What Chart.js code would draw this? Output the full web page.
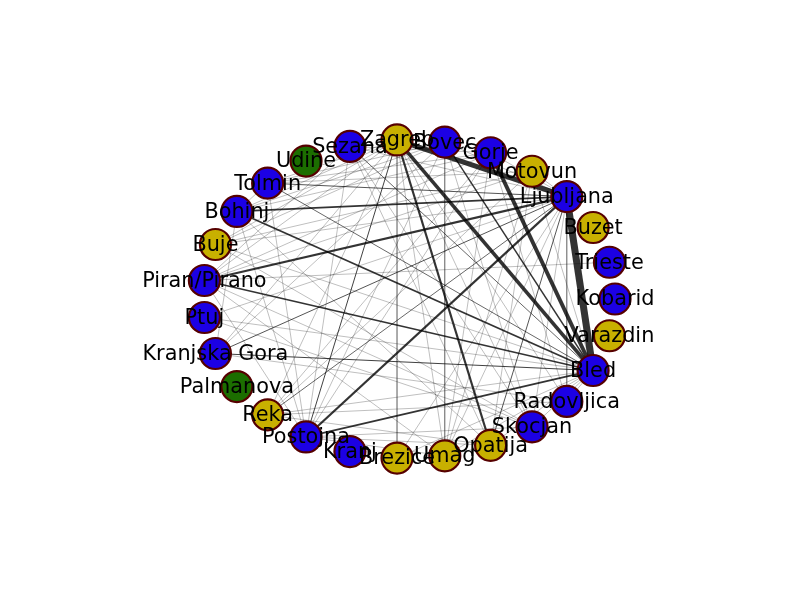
<!DOCTYPE html>
<html>
<head>
<meta charset="utf-8">
<script src="https://cdn.jsdelivr.net/npm/chart.js@4.4.1/dist/chart.umd.min.js"></script>
<style>
  html, body { margin: 0; padding: 0; background: #fff; }
  #wrap { width: 800px; height: 600px; }
</style>
</head>
<body>
<div id="wrap"><canvas id="netChart" width="800" height="600"></canvas></div>
<script>
// Nodes in circular layout order (angle 0 first, counter-clockwise)
var nodeNames = ['Kobarid', 'Trieste', 'Buzet', 'Ljubljana', 'Motovun', 'Gorje', 'Bovec', 'Zagreb',
  'Sezana', 'Udine', 'Tolmin', 'Bohinj', 'Buje', 'Piran/Pirano', 'Ptuj', 'Kranjska Gora',
  'Palmanova', 'Reka', 'Postojna', 'Kranj', 'Brezice', 'Umag', 'Opatija', 'Skocjan',
  'Radovljica', 'Bled', 'Varazdin'];
// 0 = blue, 1 = yellow, 2 = green
var nodeGroups = [0, 0, 1, 0, 1, 0, 0, 1, 0, 2, 0, 0, 1, 0, 0, 0, 2, 1, 0, 0, 1, 1, 1, 0, 0, 0, 1];
var groupColors = ['#1c00e4', '#c8b000', '#1c6e00'];

// Edges: [from, to, weight]
var heavyEdges = [
  ['Ljubljana', 'Bled', 7],
  ['Zagreb', 'Ljubljana', 5],
  ['Gorje', 'Bled', 4],
  ['Zagreb', 'Bled', 3.5],
  ['Zagreb', 'Opatija', 2.2],
  ['Piran/Pirano', 'Ljubljana', 2.2],
  ['Postojna', 'Ljubljana', 2.2],
  ['Bohinj', 'Ljubljana', 1.8],
  ['Bohinj', 'Bled', 1.8],
  ['Piran/Pirano', 'Bled', 1.6],
  ['Postojna', 'Bled', 1.8],
  ['Bovec', 'Bled', 1.4]
];
var mediumEdges = [
  ['Kranjska Gora', 'Bled', 1],
  ['Kranjska Gora', 'Ljubljana', 0.9],
  ['Zagreb', 'Postojna', 1],
  ['Tolmin', 'Ljubljana', 0.9],
  ['Opatija', 'Ljubljana', 0.9],
  ['Sezana', 'Bled', 0.8],
  ['Reka', 'Ljubljana', 0.8],
  ['Tolmin', 'Bled', 0.8]
];
var lightEdges = [
  ['Zagreb', 'Brezice'], ['Zagreb', 'Kranjska Gora'], ['Zagreb', 'Piran/Pirano'], ['Zagreb', 'Buje'],
  ['Zagreb', 'Reka'], ['Zagreb', 'Umag'], ['Zagreb', 'Skocjan'],
  ['Zagreb', 'Radovljica'], ['Zagreb', 'Bohinj'], ['Zagreb', 'Tolmin'],
  ['Ljubljana', 'Sezana'], ['Ljubljana', 'Buje'], ['Ljubljana', 'Ptuj'], ['Ljubljana', 'Brezice'],
  ['Ljubljana', 'Umag'], ['Ljubljana', 'Skocjan'], ['Ljubljana', 'Radovljica'], ['Ljubljana', 'Bovec'],
  ['Ljubljana', 'Gorje'], ['Ljubljana', 'Motovun'],
  ['Bled', 'Buje'], ['Bled', 'Ptuj'], ['Bled', 'Reka'], ['Bled', 'Brezice'],
  ['Bled', 'Umag'], ['Bled', 'Opatija'], ['Bled', 'Skocjan'], ['Bled', 'Radovljica'], ['Bled', 'Motovun'],
  ['Bohinj', 'Tolmin'], ['Bohinj', 'Bovec'], ['Bohinj', 'Gorje'],
  ['Bohinj', 'Kranjska Gora'], ['Bohinj', 'Postojna'], ['Bohinj', 'Opatija'],
  ['Tolmin', 'Bovec'], ['Tolmin', 'Gorje'], ['Tolmin', 'Motovun'], ['Tolmin', 'Postojna'],
  ['Piran/Pirano', 'Sezana'], ['Piran/Pirano', 'Motovun'], ['Piran/Pirano', 'Postojna'],
  ['Piran/Pirano', 'Umag'], ['Piran/Pirano', 'Skocjan'], ['Piran/Pirano', 'Gorje'],
  ['Piran/Pirano', 'Trieste'],
  ['Postojna', 'Sezana'], ['Postojna', 'Bovec'], ['Postojna', 'Gorje'], ['Postojna', 'Skocjan'],
  ['Postojna', 'Opatija'], ['Postojna', 'Umag'],
  ['Sezana', 'Skocjan'], ['Sezana', 'Opatija'], ['Sezana', 'Gorje'],
  ['Bovec', 'Kranjska Gora'], ['Bovec', 'Skocjan'], ['Bovec', 'Umag'], ['Bovec', 'Buje'],
  ['Gorje', 'Reka'], ['Gorje', 'Umag'], ['Gorje', 'Radovljica'],
  ['Motovun', 'Buje'], ['Motovun', 'Reka'], ['Motovun', 'Opatija'], ['Motovun', 'Umag'],
  ['Buje', 'Skocjan'],
  ['Reka', 'Opatija'], ['Reka', 'Radovljica'],
  ['Kranjska Gora', 'Radovljica'],
  ['Ptuj', 'Skocjan'], ['Umag', 'Opatija']
];

// circular layout like networkx
function nodePos(i) {
  var t = 2 * Math.PI * i / nodeNames.length;
  return { x: Math.cos(t), y: Math.sin(t) };
}

var datasets = [];

// nodes on top
datasets.push({
  label: 'nodes',
  data: nodeNames.map(function (n, i) { return nodePos(i); }),
  pointRadius: 15.5,
  pointHoverRadius: 15.5,
  pointBackgroundColor: nodeGroups.map(function (g) { return groupColors[g]; }),
  pointBorderColor: '#560000',
  pointBorderWidth: 2.2,
  showLine: false,
  order: 0
});

function addEdge(e, w, col) {
  var a = nodePos(nodeNames.indexOf(e[0]));
  var b = nodePos(nodeNames.indexOf(e[1]));
  datasets.push({
    label: e[0] + '-' + e[1],
    data: [a, b],
    showLine: true,
    pointRadius: 0,
    borderColor: col,
    borderWidth: w,
    order: 2
  });
}
lightEdges.forEach(function (e) { addEdge(e, 0.5, 'rgba(0,0,0,0.5)'); });
mediumEdges.forEach(function (e) { addEdge(e, e[2], 'rgba(0,0,0,0.75)'); });
heavyEdges.forEach(function (e) { addEdge(e, e[2], 'rgba(0,0,0,0.8)'); });

// node labels drawn through the scales
var labelPlugin = {
  id: 'nodeLabels',
  afterDatasetsDraw: function (chart) {
    var ctx = chart.ctx;
    var xs = chart.scales.x, ys = chart.scales.y;
    ctx.save();
    ctx.font = '20.8px "DejaVu Sans"';
    ctx.fillStyle = '#000';
    ctx.textAlign = 'center';
    ctx.textBaseline = 'middle';
    nodeNames.forEach(function (n, i) {
      var p = nodePos(i);
      ctx.fillText(n, xs.getPixelForValue(p.x), ys.getPixelForValue(p.y) + 1);
    });
    ctx.restore();
  }
};

var ctx = document.getElementById('netChart').getContext('2d');
var chart = new Chart(ctx, {
  type: 'scatter',
  data: { datasets: datasets },
  options: {
    responsive: false,
    animation: false,
    devicePixelRatio: 1,
    layout: { padding: 0, autoPadding: false },
    plugins: { legend: { display: false }, tooltip: { enabled: false } },
    scales: {
      x: { display: false, min: -1.9854, max: 1.898 },
      y: { display: false, min: -1.8895, max: 1.877 }
    }
  },
  plugins: [labelPlugin]
});
</script>
</body>
</html>
